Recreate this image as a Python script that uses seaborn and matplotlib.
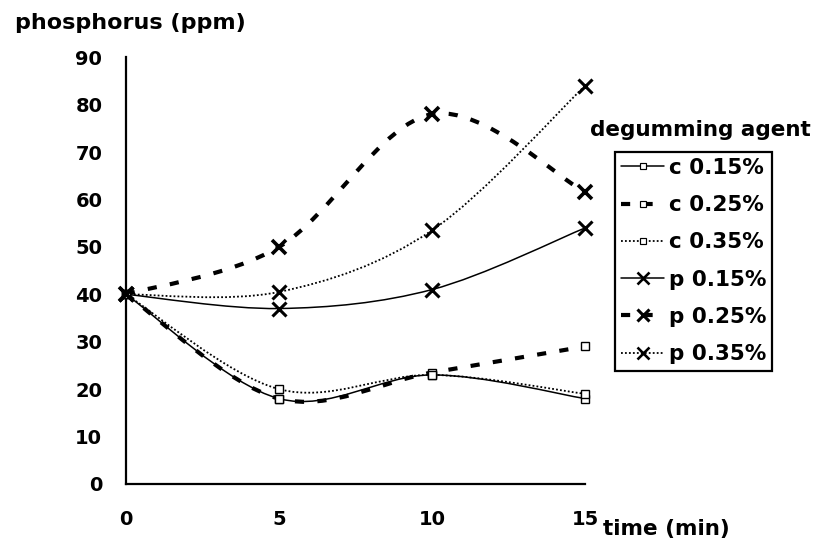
import numpy as np
import pandas as pd
import matplotlib
matplotlib.use("Agg")
import matplotlib.pyplot as plt
from matplotlib.path import Path
from matplotlib.patches import PathPatch
from matplotlib.lines import Line2D
import seaborn as sns

# Phosphorus content over time for each degumming agent
time_min = [0, 5, 10, 15]
c_015 = [40, 18, 23, 18]
c_025 = [40, 18, 23.5, 29]
c_035 = [40, 20, 23, 19]
p_015 = [40, 37, 41, 54]
p_025 = [40, 50, 78, 61.5]
p_035 = [40, 40.5, 53.5, 84]
series_labels = ["c 0.15%", "c 0.25%", "c 0.35%", "p 0.15%", "p 0.25%", "p 0.35%"]
y_ticks = [0, 10, 20, 30, 40, 50, 60, 70, 80, 90]
x_ticks = [0, 5, 10, 15]

series_values = [c_015, c_025, c_035, p_015, p_025, p_035]
df = pd.concat(
    [pd.DataFrame({"time": time_min, "phosphorus": v, "agent": lab})
     for lab, v in zip(series_labels, series_values)],
    ignore_index=True,
)

sns.set_theme(style="white")
plt.rcParams["font.family"] = ["DejaVu Sans"]
plt.rcParams["font.weight"] = "bold"
plt.rcParams["text.color"] = "black"
TICK_FS = 14
LABEL_FS = 15.5

fig = plt.figure(figsize=(8.23, 5.45), dpi=100)
ax = fig.add_axes([0.153, 0.112, 0.558, 0.783])

styles = {
    "c 0.15%": dict(ls="-", lw=1.1, marker="s", ms=5.5, mew=1.0),
    "c 0.25%": dict(ls=(0, (2.2, 3.2)), lw=3.0, marker="s", ms=5.5, mew=1.0),
    "c 0.35%": dict(ls=(0, (1, 1.2)), lw=1.3, marker="s", ms=5.5, mew=1.0),
    "p 0.15%": dict(ls="-", lw=1.1, marker="x", ms=10, mew=2.2),
    "p 0.25%": dict(ls=(0, (2.2, 3.2)), lw=3.0, marker="x", ms=10, mew=2.6),
    "p 0.35%": dict(ls=(0, (1, 1.2)), lw=1.3, marker="x", ms=10, mew=2.2),
}


def smooth_path(xs, ys):
    """Cubic Bezier path through the points (Catmull-Rom style smoothing)."""
    pts = np.column_stack([xs, ys]).astype(float)
    n = len(pts)
    verts = [pts[0]]
    codes = [Path.MOVETO]
    for i in range(n - 1):
        p_prev = pts[i - 1] if i > 0 else pts[i]
        p_next2 = pts[i + 2] if i + 2 < n else pts[i + 1]
        c1 = pts[i] + (pts[i + 1] - p_prev) / 6.0
        c2 = pts[i + 1] - (p_next2 - pts[i]) / 6.0
        verts += [c1, c2, pts[i + 1]]
        codes += [Path.CURVE4] * 3
    return Path(verts, codes)


for lab in series_labels:
    st = styles[lab]
    sub = df[df["agent"] == lab]
    patch = PathPatch(smooth_path(sub["time"], sub["phosphorus"]),
                      fill=False, edgecolor="black", lw=st["lw"],
                      linestyle=st["ls"], transform=ax.transData,
                      capstyle="butt", clip_on=False, zorder=2)
    ax.add_patch(patch)
    sns.lineplot(data=sub, x="time", y="phosphorus", ax=ax, color="black",
                 linestyle="none", marker=st["marker"], markersize=st["ms"],
                 markeredgewidth=st["mew"], markerfacecolor="white",
                 markeredgecolor="black", legend=False, zorder=3,
                 clip_on=False)

ax.set_xlim(0, 15)
ax.set_ylim(0, 90)
ax.set_xticks(x_ticks)
ax.set_yticks(y_ticks)
ax.set_xlabel("")
ax.set_ylabel("")
ax.tick_params(axis="both", which="both", direction="out", length=7,
               width=1.3, colors="black", labelsize=TICK_FS)
ax.tick_params(axis="y", pad=10)
ax.tick_params(axis="x", pad=12)
for lbl in ax.get_xticklabels() + ax.get_yticklabels():
    lbl.set_fontweight("bold")
for side in ["top", "right"]:
    ax.spines[side].set_visible(False)
for side in ["left", "bottom"]:
    ax.spines[side].set_color("black")
    ax.spines[side].set_linewidth(1.6)

fig.text(0.018, 0.958, "phosphorus (ppm)", fontsize=LABEL_FS + 0.5,
         fontweight="bold", color="black", ha="left", va="center")
fig.text(0.733, 0.030, "time (min)", fontsize=LABEL_FS, fontweight="bold",
         color="black", ha="left", va="center")

handles = []
for lab in series_labels:
    st = styles[lab]
    handles.append(Line2D([], [], color="black", lw=st["lw"], ls=st["ls"],
                          marker=st["marker"], ms=st["ms"] * 0.8,
                          mew=st["mew"] * 0.85, mfc="white", mec="black"))
leg = fig.legend(handles, series_labels, loc="upper left",
                 bbox_to_anchor=(0.747, 0.722), frameon=True, fancybox=False,
                 framealpha=1.0, edgecolor="black",
                 handlelength=2.0, handletextpad=0.2, borderpad=0.3,
                 labelspacing=0.8, borderaxespad=0,
                 prop={"weight": "bold", "size": LABEL_FS})
leg.get_frame().set_edgecolor("black")
leg.get_frame().set_linewidth(1.6)
for t in leg.get_texts():
    t.set_color("black")
fig.text(0.717, 0.762, "degumming agent", fontsize=LABEL_FS,
         fontweight="bold", color="black", ha="left", va="center")

fig.savefig("out.png", dpi=100, facecolor="white")
